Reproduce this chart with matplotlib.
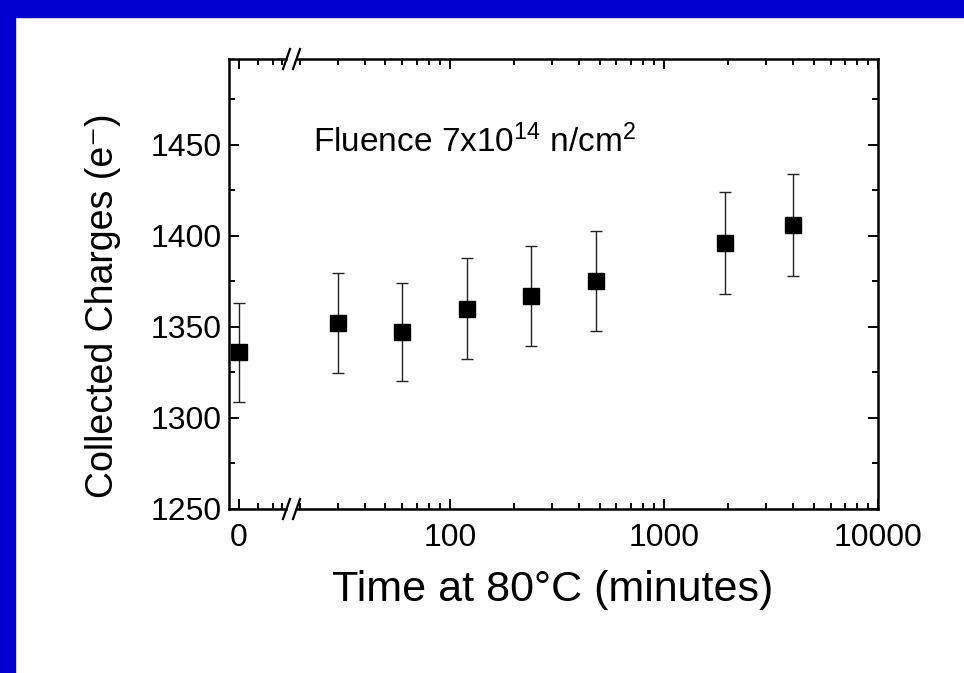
import numpy as np
import matplotlib
matplotlib.use('Agg')
import matplotlib.pyplot as plt
from matplotlib.patches import Rectangle
from matplotlib.lines import Line2D
from matplotlib.ticker import FixedLocator, NullFormatter, LogLocator

plt.rcParams['font.family'] = ['Liberation Sans', 'DejaVu Sans']
plt.rcParams['mathtext.fontset'] = 'custom'
plt.rcParams['mathtext.rm'] = 'Liberation Sans'
plt.rcParams['mathtext.it'] = 'Liberation Sans:italic'

# annealing time at 80C (minutes), collected charge (e-) and error
time_min = np.array([0, 30, 60, 120, 240, 480, 1920, 4000])
charge = np.array([1336, 1352, 1347, 1360, 1367, 1375, 1396, 1406])
err = np.array([27, 27.5, 27, 27.5, 27.5, 27.5, 28, 28])

yticks = [1250, 1300, 1350, 1400, 1450]
xticks_log = [100, 1000, 10000]

W, H = 964, 673
fig = plt.figure(figsize=(W / 100, H / 100), dpi=100)
fig.patch.set_facecolor('white')
blue = '#0000cc'
fig.patches.append(Rectangle((0, 0), 15 / W, 1, transform=fig.transFigure, color=blue))
fig.patches.append(Rectangle((0, 1 - 17 / H), 1, 17 / H, transform=fig.transFigure, color=blue))

top, bot = 59, 509
axl = fig.add_axes([229 / W, 1 - bot / H, (286 - 229) / W, (bot - top) / H])
axr = fig.add_axes([297 / W, 1 - bot / H, (878 - 297) / W, (bot - top) / H])

ekw = dict(fmt='s', color='black', ms=12, ecolor='#222222', elinewidth=1,
           capsize=4, capthick=1, clip_on=False, zorder=3)
zero = time_min == 0
axl.errorbar(time_min[zero], charge[zero], yerr=err[zero], **ekw)
axr.errorbar(time_min[~zero], charge[~zero], yerr=err[~zero], **ekw)

for ax in (axl, axr):
    ax.set_ylim(1250, 1497)
    ax.set_yticks(yticks)
    ax.yaxis.set_minor_locator(FixedLocator(np.arange(1275, 1500, 50)))
    ax.tick_params(which='both', direction='in', top=True, width=1.4,
                   labelsize=23, pad=10)
    ax.tick_params(which='major', length=7.5)
    ax.tick_params(which='minor', length=4)
    ax.tick_params(axis='y', pad=5)
    for s in ax.spines.values():
        s.set_linewidth(1.8)

axl.set_xlim(-1, 4.7)
axl.set_xticks([0])
axl.set_xticklabels(['0'])
axl.xaxis.set_minor_locator(FixedLocator([1.9, 3.4, 4.3]))
axl.spines['right'].set_visible(False)
axl.tick_params(axis='y', which='both', right=False)

axr.set_xscale('log')
axr.set_xlim(19.3, 10000)
axr.set_xticks(xticks_log)
axr.set_xticklabels([str(v) for v in xticks_log])
axr.xaxis.set_minor_locator(LogLocator(subs=np.arange(2, 10)))
axr.xaxis.set_minor_formatter(NullFormatter())
axr.spines['left'].set_visible(False)
axr.tick_params(axis='y', which='both', left=False, labelleft=False, right=True)

# axis break marks
for yc in (top, bot):
    for x0 in (283, 293):
        fig.add_artist(Line2D([x0 / W, (x0 + 7) / W],
                              [1 - (yc + 10) / H, 1 - (yc - 10) / H],
                              color='black', lw=1.6))

fig.text(553 / W, 1 - 590 / H, 'Time at 80°C (minutes)', ha='center', va='center', fontsize=31)
fig.text(103 / W, 1 - 306 / H, 'Collected Charges (e\u207b)', ha='center',
         va='center', rotation=90, fontsize=27)
fig.text(313 / W, 1 - 152 / H, r'Fluence 7x10$^{14}$ n/cm$^{2}$', ha='left', va='baseline',
         fontsize=24)

fig.savefig('out.png', dpi=100)
